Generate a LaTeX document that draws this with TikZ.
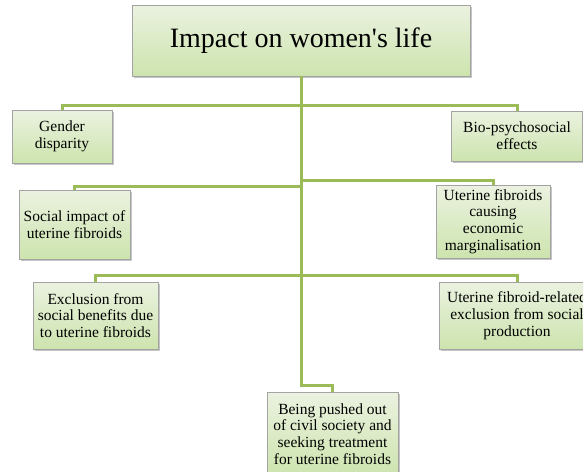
\documentclass[tikz,border=0pt]{standalone}
\usepackage{fontspec}
\setmainfont{Liberation Serif}
\usetikzlibrary{shadows}

\definecolor{boxtop}{HTML}{EBF2E0}
\definecolor{boxbottom}{HTML}{CDE4AE}
\definecolor{boxgray}{HTML}{A3A3A3}
\definecolor{linegreen}{HTML}{9BBB59}

\tikzset{
  box/.style={draw=boxgray, line width=0.8pt, top color=boxtop, bottom color=boxbottom,
    drop shadow={shadow xshift=1.5pt, shadow yshift=-1.5pt, fill=black!45, opacity=0.5},
    align=center, inner sep=2pt, font=\fontsize{15.5}{16.7}\selectfont},
  branch/.style={draw=linegreen, line width=3pt},
}

\begin{document}
\begin{tikzpicture}[x=1pt, y=-1pt]
\useasboundingbox (0,0) rectangle (583,471);

% Title box
\node[box, minimum width=338pt, minimum height=71pt, font=\fontsize{28}{33}\selectfont] (impact) at (301,40.5) {Impact on women\textquotesingle s life};

% Left column
\node[box, minimum width=100pt, minimum height=53pt] (gender) at (62,136.5) {Gender\\disparity};
\node[box, minimum width=111pt, minimum height=69pt] (social) at (74.5,224.5) {Social impact of\\uterine fibroids};
\node[box, minimum width=125pt, minimum height=67pt] (benefits) at (95.5,315.5) {Exclusion from\\social benefits due\\to uterine fibroids};

% Right column
\node[box, minimum width=131pt, minimum height=50pt] (biopsy) at (517,136) {Bio-psychosocial\\effects};
\node[box, minimum width=114pt, minimum height=73pt] (economic) at (493,221.5) {Uterine fibroids\\causing\\economic\\marginalisation};
\node[box, minimum width=156pt, minimum height=67pt] (production) at (517,315.5) {Uterine fibroid-related\\exclusion from social\\production};

% Bottom box
\node[box, minimum width=131pt, minimum height=84pt] (pushed) at (332.5,434) {Being pushed out\\of civil society and\\seeking treatment\\for uterine fibroids};

% Points on the trunk
\coordinate (hubA) at (301,105);
\coordinate (hubBl) at (301,186);
\coordinate (hubBr) at (301,180);
\coordinate (hubC) at (301,275);
\coordinate (hubD) at (301,385);

% Connectors
\draw[branch] (impact.south) -- (hubD) -| (pushed.north);
\draw[branch] (hubA) -| (gender.north);
\draw[branch] (hubA) -| (biopsy.north);
\draw[branch] (hubBl) -| (social.north);
\draw[branch] (hubBr) -| (economic.north);
\draw[branch] (hubC) -| (benefits.north);
\draw[branch] (hubC) -| (production.north);

\end{tikzpicture}
\end{document}
